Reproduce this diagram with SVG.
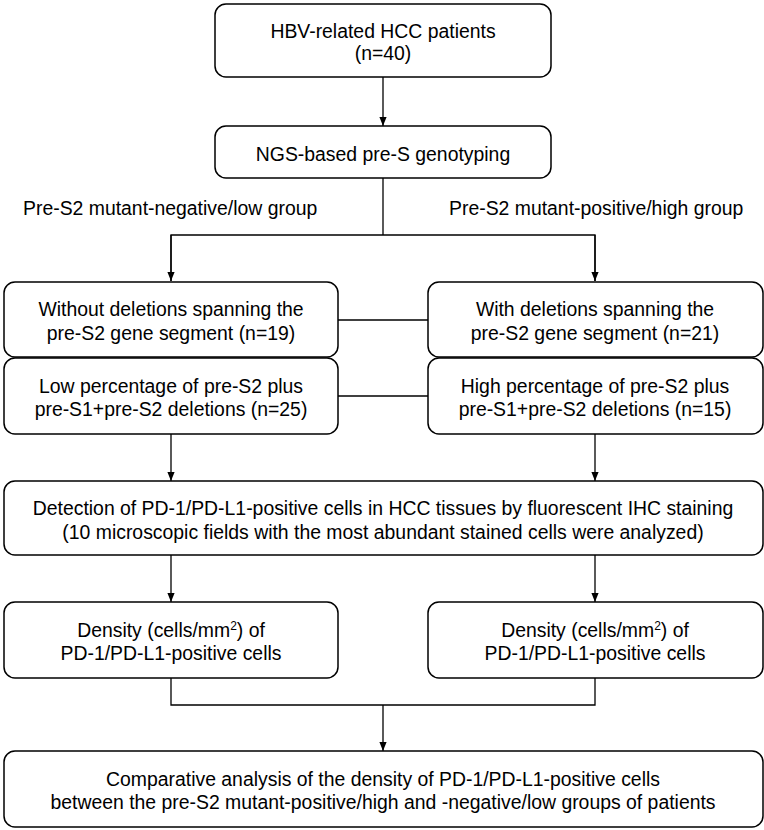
<svg xmlns="http://www.w3.org/2000/svg" width="764" height="830" viewBox="0 0 764 830">
<defs>
<style>
.box{fill:#fff;stroke:#000;stroke-width:1.5}
.t{font-family:"Liberation Sans",Arial,sans-serif;font-size:19.4px;fill:#000;text-anchor:middle}
.tl{font-family:"Liberation Sans",Arial,sans-serif;font-size:19.4px;fill:#000}
.c{fill:none;stroke:#000;stroke-width:1.3}
</style>
<marker id="ah" viewBox="0 0 10 8" refX="10" refY="4" markerWidth="9" markerHeight="7.5" markerUnits="userSpaceOnUse" orient="auto">
<path d="M0,0 L10,4 L0,8 Z" fill="#000"/>
</marker>
</defs>
<rect width="764" height="830" fill="#fff"/>
<g id="connectors">
<line class="c" x1="383" y1="77" x2="383" y2="126" marker-end="url(#ah)"/>
<polyline class="c" points="383,178 383,235"/>
<polyline class="c" points="171,281 171,235 595,235 595,281"/>
<line class="c" x1="171" y1="235" x2="171" y2="281" marker-end="url(#ah)"/>
<line class="c" x1="595" y1="235" x2="595" y2="281" marker-end="url(#ah)"/>
<line class="c" x1="338" y1="320" x2="428" y2="320"/>
<line class="c" x1="338" y1="396" x2="428" y2="396"/>
<line class="c" x1="171" y1="434" x2="171" y2="481" marker-end="url(#ah)"/>
<line class="c" x1="595" y1="434" x2="595" y2="481" marker-end="url(#ah)"/>
<line class="c" x1="171" y1="555" x2="171" y2="602" marker-end="url(#ah)"/>
<line class="c" x1="595" y1="555" x2="595" y2="602" marker-end="url(#ah)"/>
<polyline class="c" points="171,678 171,705 595,705 595,678"/>
<line class="c" x1="383" y1="705" x2="383" y2="751" marker-end="url(#ah)"/>
</g>
<g id="hbv">
<rect class="box" x="215" y="4" width="336" height="73" rx="11"/>
<text class="t" x="383" y="38">HBV-related HCC patients</text>
<text class="t" x="383" y="60">(n=40)</text>
</g>
<g id="ngs">
<rect class="box" x="215" y="126" width="336" height="52" rx="11"/>
<text class="t" x="383" y="161">NGS-based pre-S genotyping</text>
</g>
<g id="labels">
<text class="tl" x="23" y="215">Pre-S2 mutant-negative/low group</text>
<text class="tl" x="449" y="215">Pre-S2 mutant-positive/high group</text>
</g>
<g id="without">
<rect class="box" x="4" y="282" width="334" height="75" rx="11"/>
<text class="t" x="171" y="316">Without deletions spanning the</text>
<text class="t" x="171" y="340">pre-S2 gene segment (n=19)</text>
</g>
<g id="with">
<rect class="box" x="428" y="282" width="335" height="75" rx="11"/>
<text class="t" x="595" y="316">With deletions spanning the</text>
<text class="t" x="595" y="340">pre-S2 gene segment (n=21)</text>
</g>
<g id="low">
<rect class="box" x="4" y="358" width="334" height="76" rx="11"/>
<text class="t" x="171" y="393">Low percentage of pre-S2 plus</text>
<text class="t" x="171" y="416">pre-S1+pre-S2 deletions (n=25)</text>
</g>
<g id="high">
<rect class="box" x="428" y="358" width="335" height="76" rx="11"/>
<text class="t" x="595" y="393">High percentage of pre-S2 plus</text>
<text class="t" x="595" y="416">pre-S1+pre-S2 deletions (n=15)</text>
</g>
<g id="detection">
<rect class="box" x="4" y="481" width="759" height="74" rx="11"/>
<text class="t" x="383" y="515">Detection of PD-1/PD-L1-positive cells in HCC tissues by fluorescent IHC staining</text>
<text class="t" x="383" y="539">(10 microscopic fields with the most abundant stained cells were analyzed)</text>
</g>
<g id="density-left">
<rect class="box" x="4" y="602" width="334" height="76" rx="11"/>
<text class="t" x="171" y="637">Density (cells/mm<tspan font-size="12" dy="-7">2</tspan><tspan dy="7">) of</tspan></text>
<text class="t" x="171" y="660">PD-1/PD-L1-positive cells</text>
</g>
<g id="density-right">
<rect class="box" x="428" y="602" width="335" height="76" rx="11"/>
<text class="t" x="595" y="637">Density (cells/mm<tspan font-size="12" dy="-7">2</tspan><tspan dy="7">) of</tspan></text>
<text class="t" x="595" y="660">PD-1/PD-L1-positive cells</text>
</g>
<g id="comparative">
<rect class="box" x="4" y="751" width="759" height="76" rx="11"/>
<text class="t" x="383" y="786">Comparative analysis of the density of PD-1/PD-L1-positive cells</text>
<text class="t" x="383" y="809">between the pre-S2 mutant-positive/high and -negative/low groups of patients</text>
</g>
</svg>
